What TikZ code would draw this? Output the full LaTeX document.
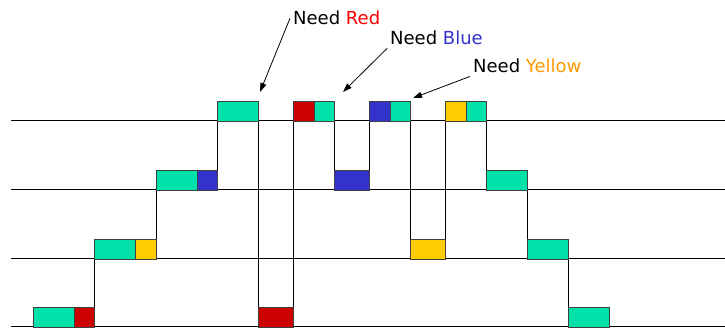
\documentclass[tikz,border=0pt]{standalone}
\usepackage{fontspec}
\setmainfont{DejaVu Sans}
\usetikzlibrary{arrows.meta,positioning,backgrounds}

\definecolor{mint}{RGB}{0,226,170}
\definecolor{cellred}{RGB}{204,0,0}
\definecolor{cellblue}{RGB}{51,51,204}
\definecolor{cellyellow}{RGB}{255,204,0}
\definecolor{txtred}{RGB}{255,0,0}
\definecolor{txtblue}{RGB}{51,51,204}
\definecolor{txtyellow}{RGB}{255,153,0}

\begin{document}
\begin{tikzpicture}[
    x=1pt, y=-1pt,
    font=\fontsize{18}{21}\selectfont,
    >={Triangle[length=9pt,width=6pt]},
    cell/.style={draw=black!75, line width=0.8pt, inner sep=0pt, outer sep=0pt, minimum height=20pt},
    longcell/.style={cell, fill=mint, minimum width=41pt},
    shortcell/.style={cell, fill=mint, minimum width=20.5pt},
    redcell/.style={cell, fill=cellred, minimum width=20.5pt},
    bluecell/.style={cell, fill=cellblue, minimum width=20.5pt},
    yellowcell/.style={cell, fill=cellyellow, minimum width=20.5pt},
    waitcell/.style={minimum width=35pt},
    level/.style={line width=1pt},
    trace/.style={line width=1pt},
    callout/.style={->, line width=0.8pt},
    note/.style={inner sep=3pt, anchor=base west}
]
\useasboundingbox (0,0) rectangle (725,328);

% ------------------------
% Levels
% ------------------------
\coordinate (lv1) at (11,327);
\coordinate (lv2) at (11,259);
\coordinate (lv3) at (11,190);
\coordinate (lv4) at (11,121);

% ------------------------
% Cells along the path
% ------------------------
\node[longcell, anchor=south west] (s1g) at (33,327) {};
\node[redcell, right=0pt of s1g] (s1r) {};

\node[longcell, anchor=south west] (s2g) at (s1r.south east |- lv2) {};
\node[yellowcell, right=0pt of s2g] (s2y) {};

\node[longcell, anchor=south west] (s3g) at (s2y.south east |- lv3) {};
\node[bluecell, right=0pt of s3g] (s3b) {};

\node[longcell, anchor=south west] (s4g) at (s3b.south east |- lv4) {};

\node[redcell, waitcell, anchor=south west] (s5r) at (s4g.south east |- lv1) {};

\node[redcell, anchor=south west] (s6r) at (s5r.south east |- lv4) {};
\node[shortcell, right=0pt of s6r] (s6g) {};

\node[bluecell, waitcell, anchor=south west] (s7b) at (s6g.south east |- lv3) {};

\node[bluecell, anchor=south west] (s8b) at (s7b.south east |- lv4) {};
\node[shortcell, right=0pt of s8b] (s8g) {};

\node[yellowcell, waitcell, anchor=south west] (s9y) at (s8g.south east |- lv2) {};

\node[yellowcell, anchor=south west] (s10y) at (s9y.south east |- lv4) {};
\node[shortcell, right=0pt of s10y] (s10g) {};

\node[longcell, anchor=south west] (s11g) at (s10g.south east |- lv3) {};
\node[longcell, anchor=south west] (s12g) at (s11g.south east |- lv2) {};
\node[longcell, anchor=south west] (s13g) at (s12g.south east |- lv1) {};

% ------------------------
% Level lines and steps
% ------------------------
\begin{scope}[on background layer]
    \draw[level] (lv1) -- (725,327);
    \draw[level] (lv2) -- (725,259);
    \draw[level] (lv3) -- (725,190);
    \draw[level] (lv4) -- (725,121);

    \draw[trace] (s1r.north east) -- (s2g.south west);
    \draw[trace] (s2y.north east) -- (s3g.south west);
    \draw[trace] (s3b.north east) -- (s4g.south west);
    \draw[trace] (s4g.south east) -- (s5r.north west);
    \draw[trace] (s5r.north east) -- (s6r.south west);
    \draw[trace] (s6g.south east) -- (s7b.north west);
    \draw[trace] (s7b.north east) -- (s8b.south west);
    \draw[trace] (s8g.south east) -- (s9y.north west);
    \draw[trace] (s9y.north east) -- (s10y.south west);
    \draw[trace] (s10g.south east) -- (s11g.north west);
    \draw[trace] (s11g.south east) -- (s12g.north west);
    \draw[trace] (s12g.south east) -- (s13g.north west);
\end{scope}

% ------------------------
% Callouts
% ------------------------
\node[note] (nr) at (290,25) {Need \textcolor{txtred}{Red}};
\node[note] (nb) at (387,45) {Need \textcolor{txtblue}{Blue}};
\node[note] (ny) at (470,73) {Need \textcolor{txtyellow}{Yellow}};

\coordinate (tr) at (260,92);
\coordinate (tb) at (343,92);
\coordinate (ty) at (413,98);

\draw[callout] (nr.west) -- (tr);
\draw[callout] (nb.south west) -- (tb);
\draw[callout] (ny.south west) -- (ty);

\end{tikzpicture}
\end{document}
